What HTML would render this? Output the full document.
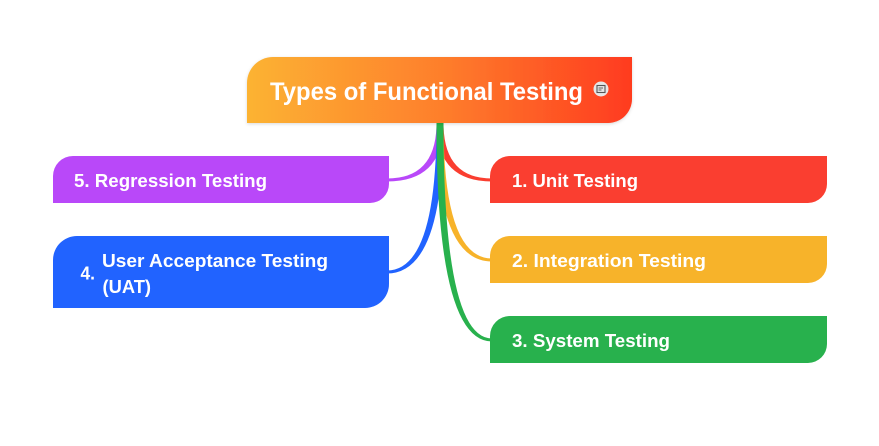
<!DOCTYPE html>
<html>
<head>
<meta charset="utf-8">
<style>
html,body{margin:0;padding:0;background:#fff;}
svg{display:block;}
text{font-family:"Liberation Sans",sans-serif;font-weight:bold;fill:#fff;}
</style>
</head>
<body>
<svg width="879" height="446" viewBox="0 0 879 446" xmlns="http://www.w3.org/2000/svg">
  <defs>
    <linearGradient id="rg" x1="0" y1="0" x2="1" y2="0">
      <stop offset="0" stop-color="#FCB332"/>
      <stop offset="0.5" stop-color="#FE7F2C"/>
      <stop offset="1" stop-color="#FF3B1F"/>
    </linearGradient>
    <filter id="sh" x="-5%" y="-10%" width="110%" height="130%">
      <feDropShadow dx="0" dy="1" stdDeviation="1.5" flood-color="#000" flood-opacity="0.15"/>
    </filter>
  </defs>

  <!-- connectors -->
  <path d="M443.5,123 Q443.5,181.5 387,181.5 L387,178.5 Q436.5,178.5 436.5,123 Z" fill="#B948F9"/>
  <path d="M436.5,123 Q436.5,181.5 492,181.5 L492,178.5 Q443.5,178.5 443.5,123 Z" fill="#FA3E30"/>
  <path d="M443.5,123 Q443.5,273.5 387,273.5 L387,270.5 Q436.5,270.5 436.5,123 Z" fill="#2163FF"/>
  <path d="M436.5,123 Q436.5,261.5 492,261.5 L492,258.5 Q443.5,258.5 443.5,123 Z" fill="#F7B32A"/>
  <path d="M436.5,123 Q436.5,341.5 492,341.5 L492,338.5 Q443.5,338.5 443.5,123 Z" fill="#28B14D"/>

  <!-- root -->
  <path d="M273,57 L632,57 L632,99 A24,24 0 0 1 608,123 L247,123 L247,83 A26,26 0 0 1 273,57 Z" fill="url(#rg)" filter="url(#sh)"/>
  <text x="270" y="100" font-size="25" textLength="313" lengthAdjust="spacingAndGlyphs">Types of Functional Testing</text>
  <circle cx="601" cy="89" r="7.5" fill="#E6E6E6"/>
  <rect x="597" y="85.5" width="8" height="7" fill="none" stroke="#555" stroke-width="1.1"/>
  <line x1="598.5" y1="88" x2="603" y2="88" stroke="#555" stroke-width="0.9"/>
  <line x1="598.5" y1="90" x2="601.5" y2="90" stroke="#555" stroke-width="0.9"/>

  <!-- right nodes -->
  <path d="M510,156 L827,156 L827,184 A19,19 0 0 1 808,203 L490,203 L490,176 A20,20 0 0 1 510,156 Z" fill="#FA3E30"/>
  <text x="512" y="187" font-size="18.5" textLength="126" lengthAdjust="spacingAndGlyphs">1. Unit Testing</text>

  <path d="M510,236 L827,236 L827,264 A19,19 0 0 1 808,283 L490,283 L490,256 A20,20 0 0 1 510,236 Z" fill="#F7B32A"/>
  <text x="512" y="267" font-size="18.5" textLength="194" lengthAdjust="spacingAndGlyphs">2. Integration Testing</text>

  <path d="M510,316 L827,316 L827,344 A19,19 0 0 1 808,363 L490,363 L490,336 A20,20 0 0 1 510,316 Z" fill="#28B14D"/>
  <text x="512" y="347" font-size="18.5" textLength="158" lengthAdjust="spacingAndGlyphs">3. System Testing</text>

  <!-- left nodes -->
  <path d="M73,156 L389,156 L389,184 A19,19 0 0 1 370,203 L53,203 L53,176 A20,20 0 0 1 73,156 Z" fill="#B948F9"/>
  <text x="74" y="187" font-size="18.5" textLength="193" lengthAdjust="spacingAndGlyphs">5. Regression Testing</text>

  <path d="M77,236 L389,236 L389,284 A24,24 0 0 1 365,308 L53,308 L53,260 A24,24 0 0 1 77,236 Z" fill="#2163FF"/>
  <text x="80.5" y="279.5" font-size="18.5" textLength="14.5" lengthAdjust="spacingAndGlyphs">4.</text>
  <text x="102" y="267" font-size="18.5" textLength="226" lengthAdjust="spacingAndGlyphs">User Acceptance Testing</text>
  <text x="102.5" y="293" font-size="18.5" textLength="48.5" lengthAdjust="spacingAndGlyphs">(UAT)</text>
</svg>
</body>
</html>
